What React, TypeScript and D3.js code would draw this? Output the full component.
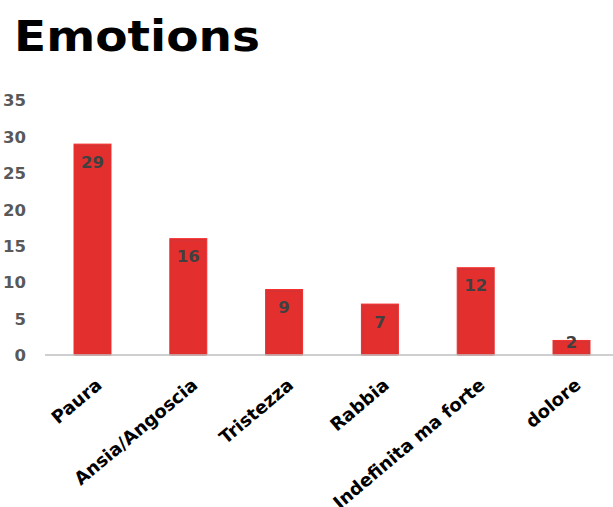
import React from "react";
import * as d3 from "d3";

const categories = ["Paura", "Ansia/Angoscia", "Tristezza", "Rabbia", "Indefinita ma forte", "dolore"];
const values = [29, 16, 9, 7, 12, 2];
const yTicks = [0, 5, 10, 15, 20, 25, 30, 35];
const title = "Emotions";

const W = 613;
const H = 507;
const FONT = "'DejaVu Sans', 'Liberation Sans', sans-serif";

export default function App() {
  const x = d3.scaleBand<string>().domain(categories).range([44.6, 619.4]).paddingInner(0.614).paddingOuter(0.307);
  const y = d3.scaleLinear().domain([0, 35]).range([355, 100.5]);
  const y0 = y(0);

  return (
    <svg width={W} height={H} style={{ position: "absolute", left: 0, top: 0, background: "#fff" }}>
      <text x={14} y={51} fontFamily={FONT} fontWeight="bold" fontSize={42} fill="#000" textLength={246} lengthAdjust="spacingAndGlyphs">
        {title}
      </text>
      {yTicks.map((t) => (
        <text key={t} x={26} y={y(t)} dy="0.36em" textAnchor="end" fontFamily={FONT} fontWeight="bold" fontSize={16.5} fill="#595959">
          {t}
        </text>
      ))}
      {categories.map((c, i) => {
        const bx = x(c)!;
        const bw = x.bandwidth();
        const top = y(values[i]);
        const cy = Math.min(top + 17.5, y0 - 12.5);
        return (
          <g key={c}>
            <rect x={bx} y={top} width={bw} height={y0 - top} fill="#E3302F" stroke="#F62B2B" strokeWidth={1} />
            <rect x={bx + 1.5} y={top + 1.5} width={Math.max(0, bw - 3)} height={Math.max(0, y0 - top - 1.5)} fill="none" stroke="#C8383A" strokeWidth={1.2} opacity={0.7} />
            <text x={bx + bw / 2} y={cy} dy="0.36em" textAnchor="middle" fontFamily={FONT} fontWeight="bold" fontSize={16.5} fill="#404040">
              {values[i]}
            </text>
          </g>
        );
      })}
      <line x1={45} x2={W} y1={y0} y2={y0} stroke="#BFBFBF" strokeWidth={1.5} />
      {categories.map((c) => {
        const cx = x(c)! + x.bandwidth() / 2;
        return (
          <text key={c} transform={`translate(${cx + 10.5},${y0 + 32}) rotate(-40)`} textAnchor="end" fontFamily={FONT} fontWeight="bold" fontSize={18} fill="#000">
            {c}
          </text>
        );
      })}
    </svg>
  );
}
